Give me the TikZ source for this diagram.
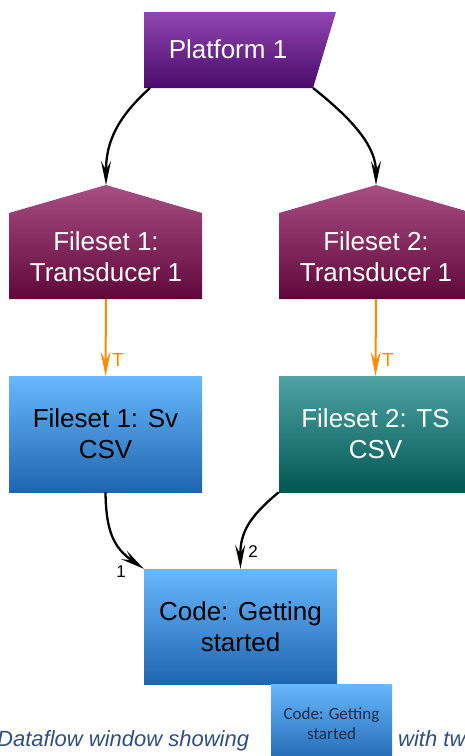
\documentclass[tikz,border=0pt]{standalone}
\usepackage{fontspec}
\setmainfont{Liberation Sans}
\newfontfamily\smallfont{Carlito}
\usetikzlibrary{arrows.meta}

\definecolor{platTop}{HTML}{9147B0}
\definecolor{platBot}{HTML}{4A0A6B}
\definecolor{fsTop}{HTML}{A84E84}
\definecolor{fsBot}{HTML}{60073A}
\definecolor{blueTop}{HTML}{68B8FD}
\definecolor{blueBot}{HTML}{1F66B0}
\definecolor{tealTop}{HTML}{4DA4A3}
\definecolor{tealBot}{HTML}{005752}
\definecolor{trigOrange}{HTML}{FF8A00}
\definecolor{capBlue}{HTML}{2F4F82}
\definecolor{smallTxt}{HTML}{1C2B45}

\tikzset{
  flow/.style={line width=2.3pt, -{Stealth[length=24pt,width=10pt,inset=9pt]}},
  trig/.style={draw=trigOrange, line width=2pt, -{Stealth[length=24pt,width=10pt,inset=9pt]}},
  boxtxt/.style={font=\fontsize{26}{31}\selectfont, align=center},
  darkbox/.style={boxtxt, text=white},
  rectbox/.style={boxtxt, rectangle, inner sep=0pt, minimum width=193pt},
  portlbl/.style={font=\fontsize{17}{19}\selectfont},
  triglbl/.style={font=\fontsize{19}{21}\selectfont, text=trigOrange},
}

\begin{document}
\begin{tikzpicture}[x=1pt,y=-1pt]
\useasboundingbox (0,0) rectangle (465,756);
\clip (0,0) rectangle (465,756);

% Platform (slanted right edge)
\shade[top color=platTop, bottom color=platBot]
  (144,12) -- (336,12) -- (313,88) -- (144,88) -- cycle;
\node[darkbox] (plat) at (228,49) {Platform 1};
\coordinate (platL) at (150,88);
\coordinate (platR) at (313,88);

% Filesets for transducers (house shapes)
\shade[top color=fsTop, bottom color=fsBot]
  (9,213) -- (106,185) -- (202,213) -- (202,299) -- (9,299) -- cycle;
\node[darkbox] (fs1) at (106,257) {Fileset 1:\\Transducer 1};
\coordinate (fs1top) at (106,185);
\coordinate (fs1bot) at (106,299);

\shade[top color=fsTop, bottom color=fsBot]
  (279,213) -- (376,185) -- (473,213) -- (473,299) -- (279,299) -- cycle;
\node[darkbox] (fs2) at (376,257) {Fileset 2:\\Transducer 1};
\coordinate (fs2top) at (376,185);
\coordinate (fs2bot) at (376,299);

% CSV outputs
\node[rectbox, top color=blueTop, bottom color=blueBot, minimum height=116pt]
  (sv) at (105.5,434) {Fileset 1: Sv\\CSV};
\node[rectbox, darkbox, top color=tealTop, bottom color=tealBot, minimum height=116pt]
  (ts) at (375.5,434) {Fileset 2: TS\\CSV};

% Code block
\node[rectbox, top color=blueTop, bottom color=blueBot, minimum height=115pt]
  (code) at (240.5,626.5) {Code: Getting\\started};

% Connectors
\draw[flow] (platL) .. controls (112,122) and (106,148) .. (fs1top);
\draw[flow] (platR) .. controls (356,122) and (376,148) .. (fs2top);

\draw[trig] (fs1bot) -- (sv.north);
\node[triglbl] (t1) at (118,360) {T};
\draw[trig] (fs2bot) -- (ts.north);
\node[triglbl] (t2) at (388,360) {T};

\draw[flow] (sv.south) .. controls (106,532) and (114,548) .. (code.north west);
\node[portlbl] (p1) at (121,572) {1};
\draw[flow] (ts.south west) .. controls (250,516) and (240,532) .. (code.north);
\node[portlbl] (p2) at (253,552) {2};

% Caption line
\node[anchor=base west, inner sep=0pt, text=capBlue,
      font=\fontsize{22}{24}\selectfont\itshape] (capa) at (-3,746)
  {Dataflow window showing};
\node[inner sep=0pt, minimum width=121pt, minimum height=80pt,
      top color=blueTop, bottom color=blueBot, align=center, text=smallTxt,
      font=\smallfont\fontsize{17}{20}\selectfont] (mini) at (331.5,724)
  {Code: Getting\\started};
\node[anchor=base west, inner sep=0pt, text=capBlue,
      font=\fontsize{22}{24}\selectfont\itshape] (capb) at (398,746)
  {with tw};
\end{tikzpicture}
\end{document}
